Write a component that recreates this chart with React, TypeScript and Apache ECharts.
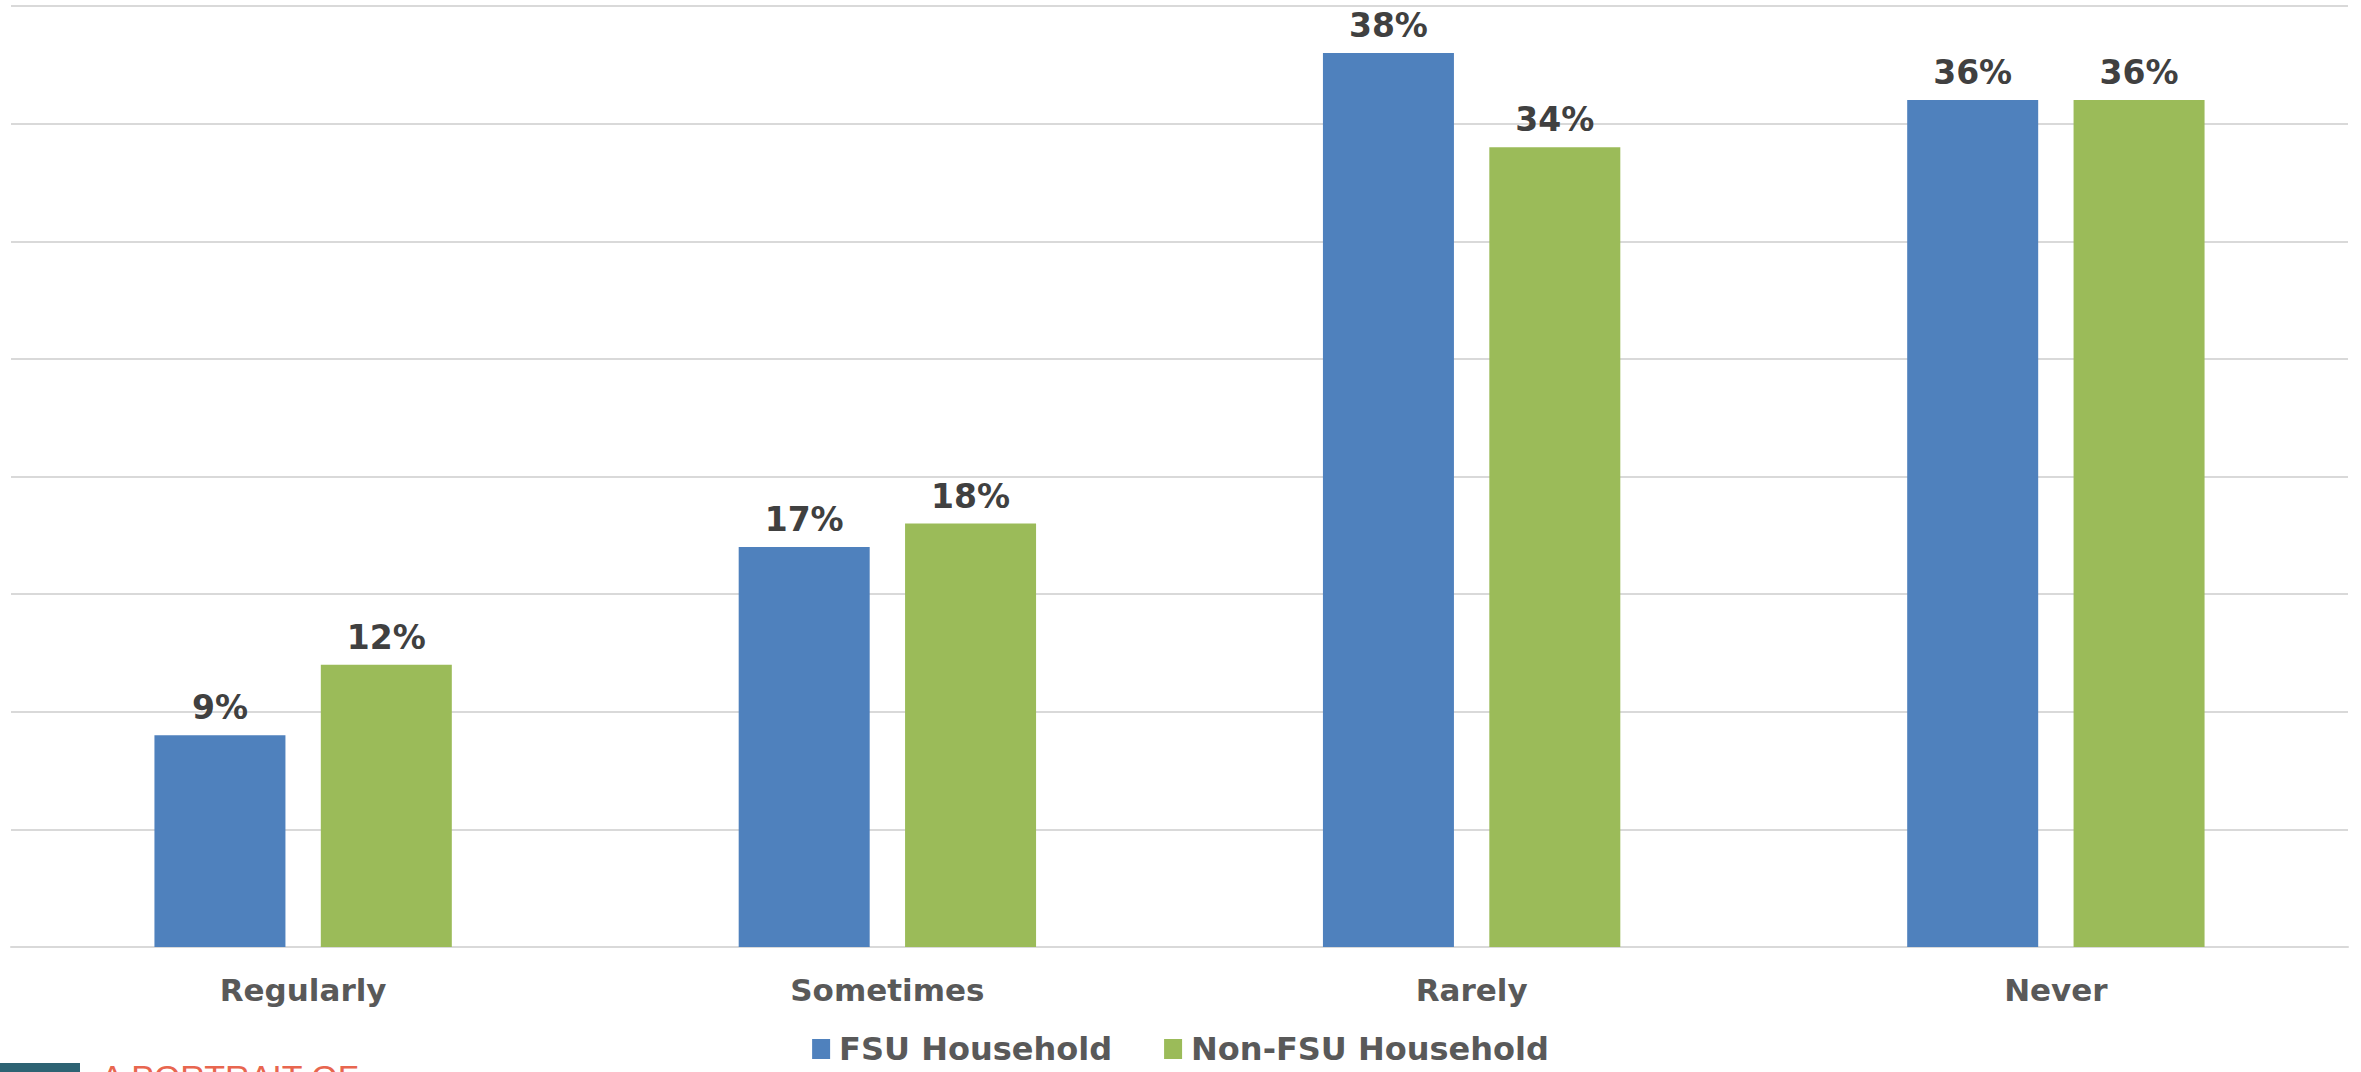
import React, { useEffect, useRef } from "react";
import * as echarts from "echarts";

const categories = ["Regularly", "Sometimes", "Rarely", "Never"];
const fsuValues = [9, 17, 38, 36];
const nonFsuValues = [12, 18, 34, 36];
const seriesNames = ["FSU Household", "Non-FSU Household"];
const footerText = "A PORTRAIT OF";

const FONT = "'DejaVu Sans', Verdana, sans-serif";

export default function App() {
  const ref = useRef<HTMLDivElement>(null);

  useEffect(() => {
    if (!ref.current) return;
    const chart = echarts.init(ref.current, undefined, { renderer: "svg" });
    const labelCfg = {
      show: true,
      position: "top",
      distance: 11,
      formatter: "{c}%",
      color: "#404040",
      fontFamily: FONT,
      fontWeight: "bold",
      fontSize: 33,
    };
    chart.setOption({
      animation: false,
      backgroundColor: "#ffffff",
      grid: { left: 11, right: 13, top: 6, bottom: 125, containLabel: false },
      legend: {
        data: seriesNames,
        left: "center",
        top: 1027,
        itemWidth: 18,
        itemHeight: 20,
        itemGap: 52,
        icon: "rect",
        textStyle: {
          color: "#595959",
          fontFamily: FONT,
          fontWeight: "bold",
          fontSize: 32,
          lineHeight: 34,
          padding: [0, 0, 0, 4],
        },
      },
      xAxis: {
        type: "category",
        data: categories,
        axisLine: { show: true, lineStyle: { color: "#d9d9d9", width: 2 } },
        axisTick: { show: false },
        axisLabel: {
          color: "#595959",
          fontFamily: FONT,
          fontWeight: "bold",
          fontSize: 31,
          margin: 27,
        },
      },
      yAxis: {
        type: "value",
        min: 0,
        max: 40,
        interval: 5,
        axisLabel: { show: false },
        axisLine: { show: false },
        axisTick: { show: false },
        splitLine: { show: true, lineStyle: { color: "#d9d9d9", width: 2 } },
      },
      series: [
        {
          name: seriesNames[0],
          type: "bar",
          data: fsuValues,
          barWidth: 131,
          barGap: "27%",
          itemStyle: { color: "#4f81bd" },
          label: labelCfg,
        },
        {
          name: seriesNames[1],
          type: "bar",
          data: nonFsuValues,
          barWidth: 131,
          itemStyle: { color: "#9bbb59" },
          label: labelCfg,
        },
      ],
      graphic: [
        {
          type: "rect",
          left: 0,
          top: 1063,
          shape: { width: 80, height: 12 },
          style: { fill: "#2d6373" },
        },
        {
          type: "text",
          x: 101,
          y: 1077,
          style: {
            text: footerText,
            fill: "#e8664f",
            font: "34px 'Liberation Sans', Arial, sans-serif",
            verticalAlign: "middle",
          },
        },
      ],
    });
    return () => chart.dispose();
  }, []);

  return (
    <div
      ref={ref}
      style={{ position: "absolute", left: 0, top: 0, width: 2361, height: 1072 }}
    />
  );
}
